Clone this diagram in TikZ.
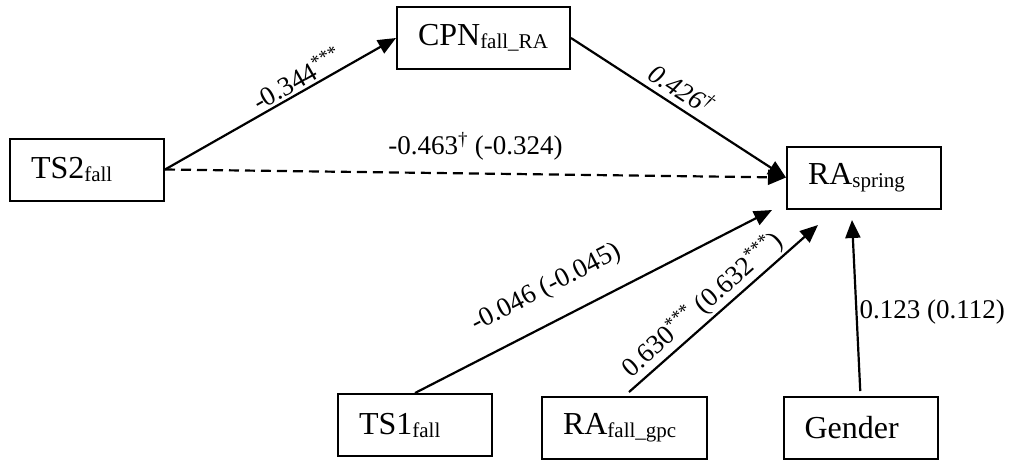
\documentclass[tikz,border=0pt]{standalone}
\usepackage{fontspec}
\setmainfont{Liberation Serif}
\usetikzlibrary{arrows.meta}
\newcommand{\subtxt}[1]{\raisebox{-3pt}{\fontsize{21}{21}\selectfont #1}}
\tikzset{
  var/.style={draw, line width=2pt, minimum height=62pt, text width=112pt,
    inner xsep=21pt, align=left, font=\fontsize{32}{36}\selectfont},
  eff/.style={line width=2.2pt, -{Triangle[length=18pt,width=15pt]}},
  coef/.style={font=\fontsize{27}{30}\selectfont, inner sep=2pt}
}
\begin{document}
\begin{tikzpicture}[x=1pt,y=-1pt]
  \useasboundingbox (0,0) rectangle (1020,459);
  % variables
  \node[var] (ts2) at (87,169.5) {TS2\subtxt{fall}};
  \node[var, text width=131pt] (cpn) at (483.5,38) {CPN\subtxt{fall\_RA}};
  \node[var] (ras) at (864,177.5) {RA\subtxt{spring}};
  \node[var] (ts1) at (415,425) {TS1\subtxt{fall}};
  \node[var, text width=123pt] (raf) at (624.5,428) {RA\subtxt{fall\_gpc}};
  \node[var] (gen) at (860.5,428) {Gender};
  % free ends below the outcome
  \coordinate (tsend) at (772,210);
  \coordinate (rafend) at (818,225);
  \coordinate (genend) at (852,220);
  % paths
  \draw[eff] (ts2.east) -- node[coef, sloped, above, pos=0.6] {-0.344\textsuperscript{***}} (cpn.west);
  \draw[eff] (cpn.east) -- node[coef, sloped, above=4pt, pos=0.47] {\textit{0.426\textsuperscript{\textdagger}}} (ras.west);
  \draw[eff, dash pattern=on 10pt off 6pt] (ts2.east) -- node[coef, above=10pt, pos=0.5] {-0.463\textsuperscript{\textdagger} (-0.324)} (ras.west);
  \draw[eff] (ts1.north) -- node[coef, sloped, above=18pt, pos=0.41] {-0.046 (-0.045)} (tsend);
  \draw[eff, shorten <=6pt] (raf.north) -- node[coef, sloped, above, pos=0.46] {0.630\textsuperscript{***} (0.632\textsuperscript{***})} (rafend);
  \draw[eff, shorten <=5pt] (gen.north) -- node[coef, right, pos=0.48] {0.123 (0.112)} (genend);
\end{tikzpicture}
\end{document}
